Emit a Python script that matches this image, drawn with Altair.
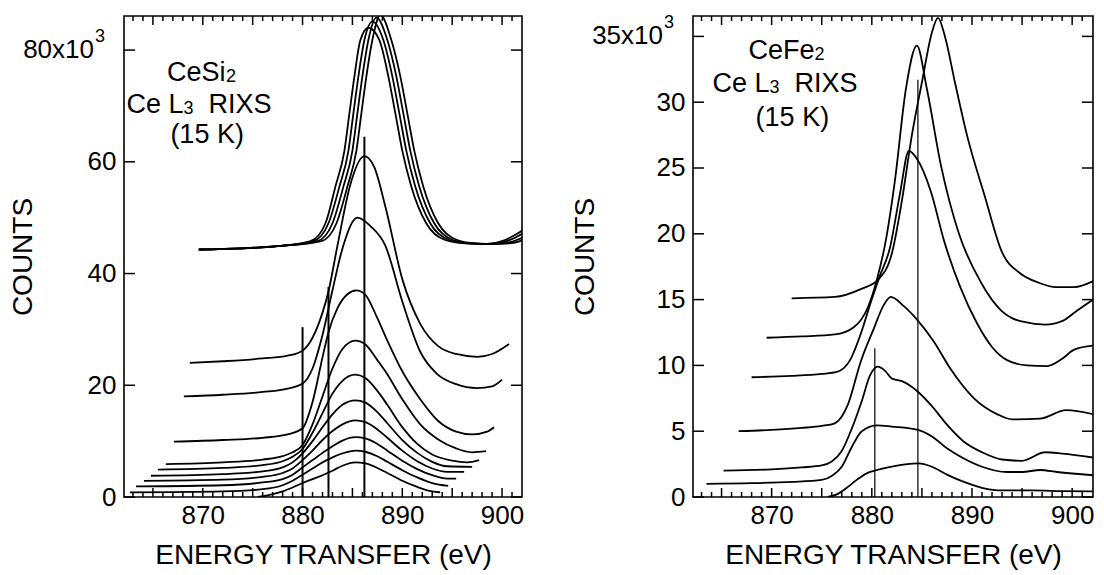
import altair as alt
import pandas as pd

FONT = "Liberation Sans"

# ---------------- Left panel: CeSi2 (energy transfer in eV, counts in 10^3) ----------------
SI_T1_E = [869.6, 874, 877.5, 880.8, 882.3, 883.3, 884.2, 884.7, 885.2, 885.8, 886.6, 887.7, 888.6, 889.3, 890.0, 890.9, 892.4, 894.3, 896.3, 898.5, 900.0, 901.2, 902.1]
SI_T1_C = [44.3, 44.5, 44.9, 45.8, 49.0, 55.6, 62.0, 68.7, 75.3, 81.8, 84.0, 81.8, 75.3, 68.7, 62.0, 55.6, 49.0, 46.0, 45.4, 45.3, 45.8, 46.8, 47.8]
SI_T2_E = [869.6, 874, 877.5, 881.1, 882.6, 883.7, 884.6, 885.1, 885.6, 886.2, 887.0, 888.1, 889.0, 889.7, 890.4, 891.3, 892.8, 894.7, 896.6, 898.8, 900.3, 901.4, 902.1]
SI_T2_C = [44.3, 44.5, 44.9, 45.8, 49.0, 55.6, 62.0, 68.7, 75.3, 81.8, 85.1, 81.8, 75.3, 68.7, 62.0, 55.6, 49.0, 46.0, 45.4, 45.3, 45.7, 46.5, 47.2]
SI_T3_E = [869.6, 874, 877.5, 881.5, 883.0, 884.1, 885.0, 885.5, 886.0, 886.6, 887.4, 888.5, 889.4, 890.1, 890.8, 891.7, 893.2, 895.1, 897.0, 899.0, 900.5, 901.6, 902.1]
SI_T3_C = [44.3, 44.5, 44.9, 45.8, 49.0, 55.6, 62.0, 68.7, 75.3, 81.8, 85.8, 81.8, 75.3, 68.7, 62.0, 55.6, 49.0, 46.0, 45.4, 45.3, 45.5, 46.1, 46.5]
SI_T4_E = [869.6, 874, 877.5, 881.9, 883.4, 884.5, 885.4, 885.9, 886.4, 887.0, 887.8, 888.9, 889.8, 890.5, 891.2, 892.1, 893.6, 895.5, 897.4, 899.3, 900.7, 901.8, 902.1]
SI_T4_C = [44.3, 44.5, 44.9, 45.8, 49.0, 55.6, 62.0, 68.7, 75.3, 81.8, 86.3, 81.8, 75.3, 68.7, 62.0, 55.6, 49.0, 46.0, 45.4, 45.3, 45.4, 45.8, 46.1]

SI_C1_E = [868.7, 872, 876, 878.5, 880.0, 881.0, 882.0, 882.6, 883.5, 884.8, 886.2, 887.2, 888.3, 890.0, 891.8, 893.6, 895.4, 897.5, 899.0, 900.7]
SI_C1_C = [24.0, 24.3, 24.8, 25.3, 26.2, 28.5, 33.0, 36.8, 45.0, 56.0, 61.0, 59.0, 52.0, 39.0, 31.0, 27.0, 25.6, 25.1, 25.6, 27.4]
SI_C2_E = [868.1, 872, 876, 878.5, 880.0, 881.0, 882.0, 883.0, 884.0, 885.5, 886.8, 888.3, 890.0, 891.8, 893.5, 895.4, 897.5, 899.0, 900.0]
SI_C2_C = [18.0, 18.3, 18.8, 19.4, 20.3, 23.0, 29.0, 37.0, 44.5, 50.0, 48.5, 45.0, 35.0, 26.0, 22.0, 20.2, 19.5, 19.8, 21.0]
SI_C3_E = [867.1, 872, 876, 878.5, 880.0, 881.0, 882.0, 882.6, 883.5, 884.5, 885.4, 886.3, 887.5, 888.5, 890.0, 891.8, 893.6, 895.4, 897.0, 898.5, 899.2]
SI_C3_C = [9.9, 10.2, 10.6, 11.2, 12.3, 17.0, 25.0, 29.5, 33.8, 36.3, 37.0, 36.2, 32.0, 28.0, 22.5, 17.5, 13.6, 11.7, 11.2, 11.7, 12.5]
SI_C4_E = [866.3, 872, 876, 878, 879, 880, 881, 882, 883, 884, 885.3, 886.3, 887.5, 888.3, 890.0, 891.8, 893.6, 895.4, 897.0, 898.4]
SI_C4_C = [5.9, 6.2, 6.7, 7.3, 8.0, 9.3, 13.0, 18.0, 23.0, 26.5, 28.0, 27.3, 24.5, 22.5, 17.5, 13.0, 10.3, 8.7, 8.0, 8.2]
SI_C5_E = [865.5, 872, 876, 878, 879, 880, 881, 882, 883, 884, 885.3, 886.3, 887.5, 888.5, 890, 891.5, 893, 895, 896.5, 897.7]
SI_C5_C = [4.9, 5.2, 5.7, 6.4, 7.2, 8.6, 11.5, 15.0, 18.5, 20.8, 21.9, 21.3, 19.0, 16.5, 12.5, 9.5, 7.6, 6.5, 6.2, 6.6]
SI_C6_E = [864.8, 872, 876, 878, 879, 880, 881, 882, 883, 884, 885.3, 886.3, 887.5, 888.5, 890, 891.5, 893, 894.5, 897.0]
SI_C6_C = [3.8, 4.1, 4.6, 5.3, 6.2, 7.8, 10.0, 12.5, 14.8, 16.5, 17.3, 16.9, 15.2, 13.2, 10.2, 7.9, 6.3, 5.5, 5.4]
SI_C7_E = [864.1, 872, 876, 878, 879, 880, 881, 882, 883, 884, 885.3, 886.3, 887.5, 888.5, 890, 891.5, 893, 894.5, 896.2]
SI_C7_C = [2.9, 3.1, 3.6, 4.3, 5.1, 6.6, 8.3, 10.2, 11.8, 13.0, 13.7, 13.4, 12.1, 10.6, 8.3, 6.4, 5.1, 4.5, 4.5]
SI_C8_E = [863.3, 872, 876, 878, 879, 880, 881, 882, 883, 884, 885.3, 886.3, 887.5, 888.5, 890, 891.5, 893, 894.5, 895.4]
SI_C8_C = [1.9, 2.1, 2.6, 3.2, 4.0, 5.3, 6.6, 7.9, 9.1, 10.1, 10.7, 10.5, 9.5, 8.3, 6.5, 5.0, 3.9, 3.3, 3.3]
SI_C9_E = [862.7, 872, 876, 878, 879, 880, 881, 882, 883, 884, 885.3, 886.3, 887.5, 888.5, 890, 891.5, 893, 894.6]
SI_C9_C = [0.84, 1.0, 1.4, 2.1, 2.9, 4.0, 5.1, 6.2, 7.1, 7.8, 8.3, 8.1, 7.3, 6.3, 4.8, 3.5, 2.5, 2.0]
SI_C10_E = [875.5, 876.5, 878, 879, 880, 881, 882, 883, 884, 885.3, 886.3, 887.5, 888.5, 890, 891.5, 893, 893.8]
SI_C10_C = [0.0, 0.3, 1.0, 1.7, 2.5, 3.2, 3.9, 4.7, 5.6, 6.2, 6.0, 5.2, 4.3, 2.9, 1.8, 1.0, 0.85]

SI_VLINE_E = [880.0, 882.6, 886.2]
SI_VLINE_TOP = [30.4, 37.6, 64.5]

# ---------------- Right panel: CeFe2 ----------------
FE_R1_E = [875.6, 876.5, 877.5, 878.5, 879.5, 880.3, 882.0, 884.6, 886.0, 887.5, 889.0, 891.0, 893.0, 896.0, 899.0, 902.1]
FE_R1_C = [0.0, 0.2, 0.7, 1.3, 1.8, 2.0, 2.3, 2.55, 2.3, 1.7, 1.2, 0.7, 0.5, 0.5, 0.45, 0.42]
FE_R2_E = [863.5, 868, 872, 875, 876, 877, 878, 879, 880.5, 882, 884.6, 886, 887.5, 889, 891, 893.5, 895, 896.8, 898.5, 902.1]
FE_R2_C = [1.0, 1.05, 1.15, 1.3, 1.6, 2.3, 3.8, 5.0, 5.45, 5.35, 5.1, 4.6, 3.7, 3.0, 2.3, 1.9, 1.9, 2.05, 1.9, 1.65]
FE_R3_E = [865.2, 870, 873, 875, 876, 877, 878, 879, 879.8, 880.6, 881.3, 882, 883, 884.6, 886, 887.5, 889.2, 891, 893, 895, 897.3, 899, 902.1]
FE_R3_C = [2.0, 2.1, 2.25, 2.4, 2.7, 3.5, 5.2, 7.3, 9.2, 9.9, 9.6, 9.0, 8.8, 8.0, 6.9, 5.5, 4.2, 3.4, 2.85, 2.75, 3.4, 3.3, 3.0]
FE_R4_E = [866.7, 870, 873, 875, 876.3, 877.6, 878.9, 880.2, 881.2, 881.9, 883.2, 884.6, 886.2, 887.8, 890.2, 892.5, 894, 896.8, 899.4, 902.1]
FE_R4_C = [5.0, 5.1, 5.25, 5.4, 5.6, 7.0, 10.3, 12.8, 14.6, 15.2, 14.5, 13.4, 11.8, 9.8, 7.5, 6.3, 5.9, 5.95, 6.6, 6.3]
FE_R5_E = [868.0, 872, 875, 876.5, 877.9, 878.9, 879.9, 880.8, 881.8, 882.8, 883.7, 884.5, 885.9, 887.2, 888.8, 890.5, 892, 893.5, 895.5, 897.5, 899, 900.2, 902.1]
FE_R5_C = [9.1, 9.2, 9.35, 9.5, 10.5, 12.4, 14.8, 16.8, 18.9, 23.0, 26.3, 25.7, 23.2, 19.5, 16.0, 13.2, 11.4, 10.4, 10.0, 9.95, 10.5, 11.2, 11.5]
FE_R6_E = [869.5, 873, 876.3, 878.2, 879.6, 880.5, 881.4, 882.3, 883.4, 884.5, 885.5, 886.9, 888.7, 890.9, 893, 895.2, 897.3, 899.1, 900.2, 902.1]
FE_R6_C = [12.1, 12.2, 12.35, 12.9, 14.4, 16.5, 19.5, 24.0, 31.0, 34.3, 31.0, 25.2, 20.0, 16.3, 14.1, 13.3, 13.1, 13.4, 14.0, 15.0]
FE_R7_E = [872.0, 876.3, 878.9, 880.6, 882.0, 883.0, 884.0, 885.0, 886.0, 886.6, 887.3, 888.3, 889.5, 891.3, 893.0, 894.8, 896.6, 898.4, 900.2, 902.1]
FE_R7_C = [15.1, 15.2, 15.8, 16.5, 18.5, 22.5, 27.5, 31.5, 35.3, 36.4, 35.0, 31.5, 27.5, 22.8, 18.6, 17.0, 16.3, 15.95, 15.95, 16.4]

FE_VLINE_E = [880.3, 884.6]
FE_VLINE_TOP = [11.3, 31.7]

# ---------------- Axis ticks and labels ----------------
X_LABELS = [870, 880, 890, 900]
X_MAJOR = [865, 870, 875, 880, 885, 890, 895, 900]
X_MINOR = [863, 864, 866, 867, 868, 869, 871, 872, 873, 874, 876, 877, 878, 879,
           881, 882, 883, 884, 886, 887, 888, 889, 891, 892, 893, 894, 896, 897, 898, 899, 901]
SI_Y_TICKS = [0, 20, 40, 60, 80]
FE_Y_TICKS = [0, 5, 10, 15, 20, 25, 30, 35]

SI_CURVES = {
    "T1": (SI_T1_E, SI_T1_C), "T2": (SI_T2_E, SI_T2_C), "T3": (SI_T3_E, SI_T3_C), "T4": (SI_T4_E, SI_T4_C),
    "C1": (SI_C1_E, SI_C1_C), "C2": (SI_C2_E, SI_C2_C), "C3": (SI_C3_E, SI_C3_C), "C4": (SI_C4_E, SI_C4_C),
    "C5": (SI_C5_E, SI_C5_C), "C6": (SI_C6_E, SI_C6_C), "C7": (SI_C7_E, SI_C7_C), "C8": (SI_C8_E, SI_C8_C),
    "C9": (SI_C9_E, SI_C9_C), "C10": (SI_C10_E, SI_C10_C),
}
FE_CURVES = {
    "R1": (FE_R1_E, FE_R1_C), "R2": (FE_R2_E, FE_R2_C), "R3": (FE_R3_E, FE_R3_C), "R4": (FE_R4_E, FE_R4_C),
    "R5": (FE_R5_E, FE_R5_C), "R6": (FE_R6_E, FE_R6_C), "R7": (FE_R7_E, FE_R7_C),
}

# annotation pieces: text, anchor energy (left edge), anchor counts (centre line)
SI_TEXT = ["CeSi", "2", "Ce L", "3", "RIXS", "(15 K)"]
SI_TEXT_E = [866.4, 866.4, 862.35, 862.35, 862.35, 866.75]
SI_TEXT_C = [75.9, 75.9, 70.1, 70.1, 70.1, 64.8]
FE_TEXT = ["CeFe", "2", "Ce L", "3", "RIXS", "(15 K)"]
FE_TEXT_E = [867.7, 867.7, 864.1, 864.1, 864.1, 868.4]
FE_TEXT_C = [33.9, 33.9, 31.4, 31.4, 31.4, 28.8]


def panel(curves, vl_e, vl_top, vl_w, y_ticks, top_val, x_dom, y_dom, width, height,
          title_x, texts, text_e, text_c, sub_dx):
    xs = alt.Scale(domain=x_dom, nice=False, zero=False)
    ys = alt.Scale(domain=y_dom, nice=False, zero=False)
    rows = []
    for name, (ee, cc) in curves.items():
        for a, b in zip(ee, cc):
            rows.append({"curve": name, "e": a, "c": b})
    df = pd.DataFrame(rows)

    x_axis = alt.Axis(values=X_LABELS, format="d", ticks=False, domain=False, grid=False,
                      title="ENERGY TRANSFER (eV)", labelFontSize=26, labelPadding=5,
                      titleFontSize=28, titlePadding=13, titleFontWeight="normal")
    y_axis = alt.Axis(values=y_ticks, ticks=False, domain=False, grid=False,
                      labelExpr=f"datum.value == {top_val} ? '' : datum.label",
                      labelFontSize=26, labelPadding=8, title="COUNTS", titleFontSize=28,
                      titleFontWeight="normal", titleX=title_x, titleY=height / 2,
                      titleAngle=270, titleBaseline="middle", titleAlign="center")

    lines = alt.Chart(df).mark_line(color="black", strokeWidth=1.8, interpolate="monotone",
                                    clip=True).encode(
        x=alt.X("e:Q", scale=xs, axis=x_axis),
        y=alt.Y("c:Q", scale=ys, axis=y_axis),
        detail="curve:N",
    )
    vdf = pd.DataFrame({"e": vl_e, "c": vl_top})
    vlines = alt.Chart(vdf).mark_rule(color="black", strokeWidth=vl_w).encode(
        x=alt.X("e:Q", scale=xs),
        y=alt.Y("c:Q", scale=ys),
        y2=alt.value(height),
    )
    layers = [lines, vlines]

    # inward ticks on all four sides: segments from the frame edge inwards
    ky = (y_dom[1] - y_dom[0]) / height
    kx = (x_dom[1] - x_dom[0]) / width
    seg = []
    for vals, ln in ((X_MAJOR, 9), (X_MINOR, 5)):
        for v in vals:
            seg.append({"e": v, "e2": v, "c": y_dom[0], "c2": y_dom[0] + ln * ky})
            seg.append({"e": v, "e2": v, "c": y_dom[1], "c2": y_dom[1] - ln * ky})
    for v in y_ticks:
        seg.append({"e": x_dom[0], "e2": x_dom[0] + 11 * kx, "c": v, "c2": v})
        seg.append({"e": x_dom[1], "e2": x_dom[1] - 11 * kx, "c": v, "c2": v})
    sdf_ticks = pd.DataFrame(seg)
    layers.append(alt.Chart(sdf_ticks).mark_rule(color="black", strokeWidth=1.5).encode(
        x=alt.X("e:Q", scale=xs), x2="e2:Q", y=alt.Y("c:Q", scale=ys), y2="c2:Q"))

    # top tick label "80x10^3" / "35x10^3" drawn as text pieces
    tl = pd.DataFrame({"t": [f"{top_val}x10"], "c": [top_val]})
    layers.append(alt.Chart(tl).mark_text(align="right", baseline="middle", font=FONT, color="black",
                                          fontSize=26).encode(
        x=alt.value(-30), y=alt.Y("c:Q", scale=ys), text="t:N"))
    sup = pd.DataFrame({"t": ["3"], "c": [top_val]})
    layers.append(alt.Chart(sup).mark_text(align="left", baseline="middle", font=FONT, color="black",
                                           fontSize=18, dy=-13).encode(
        x=alt.value(-29), y=alt.Y("c:Q", scale=ys), text="t:N"))

    # annotation text pieces (main text, subscript, following text)
    styles = [
        dict(fontSize=27, dx=0, dy=0),
        dict(fontSize=18, dx=sub_dx[0], dy=4),
        dict(fontSize=27, dx=0, dy=0),
        dict(fontSize=18, dx=sub_dx[1], dy=4),
        dict(fontSize=27, dx=sub_dx[2], dy=0),
        dict(fontSize=27, dx=0, dy=0),
    ]
    for i, st in enumerate(styles):
        tdf = pd.DataFrame({"t": [texts[i]], "e": [text_e[i]], "c": [text_c[i]]})
        layers.append(alt.Chart(tdf).mark_text(align="left", baseline="middle", font=FONT,
                                               color="black", **st).encode(
            x=alt.X("e:Q", scale=xs), y=alt.Y("c:Q", scale=ys), text="t:N"))

    return alt.layer(*layers).properties(width=width, height=height)


left = panel(SI_CURVES, SI_VLINE_E, SI_VLINE_TOP, 2.0, SI_Y_TICKS, 80, [862.1, 902.0], [0, 86.1],
             398, 481, -101, SI_TEXT, SI_TEXT_E, SI_TEXT_C, [59, 57, 82])
right = panel(FE_CURVES, FE_VLINE_E, FE_VLINE_TOP, 1.2, FE_Y_TICKS, 35, [862.15, 902.08], [0, 36.55],
              400, 481, -108, FE_TEXT, FE_TEXT_E, FE_TEXT_C, [66, 57, 82])

chart = alt.hconcat(left, right, spacing=45).properties(
    padding={"left": 0, "top": 5, "right": 0, "bottom": 0}
).configure_view(stroke="black", strokeWidth=1.6).configure_axis(
    labelFont=FONT, titleFont=FONT, labelColor="black", titleColor="black"
).configure_text(font=FONT)

chart.save("out.html", embed_options={"renderer": "svg", "actions": False})
